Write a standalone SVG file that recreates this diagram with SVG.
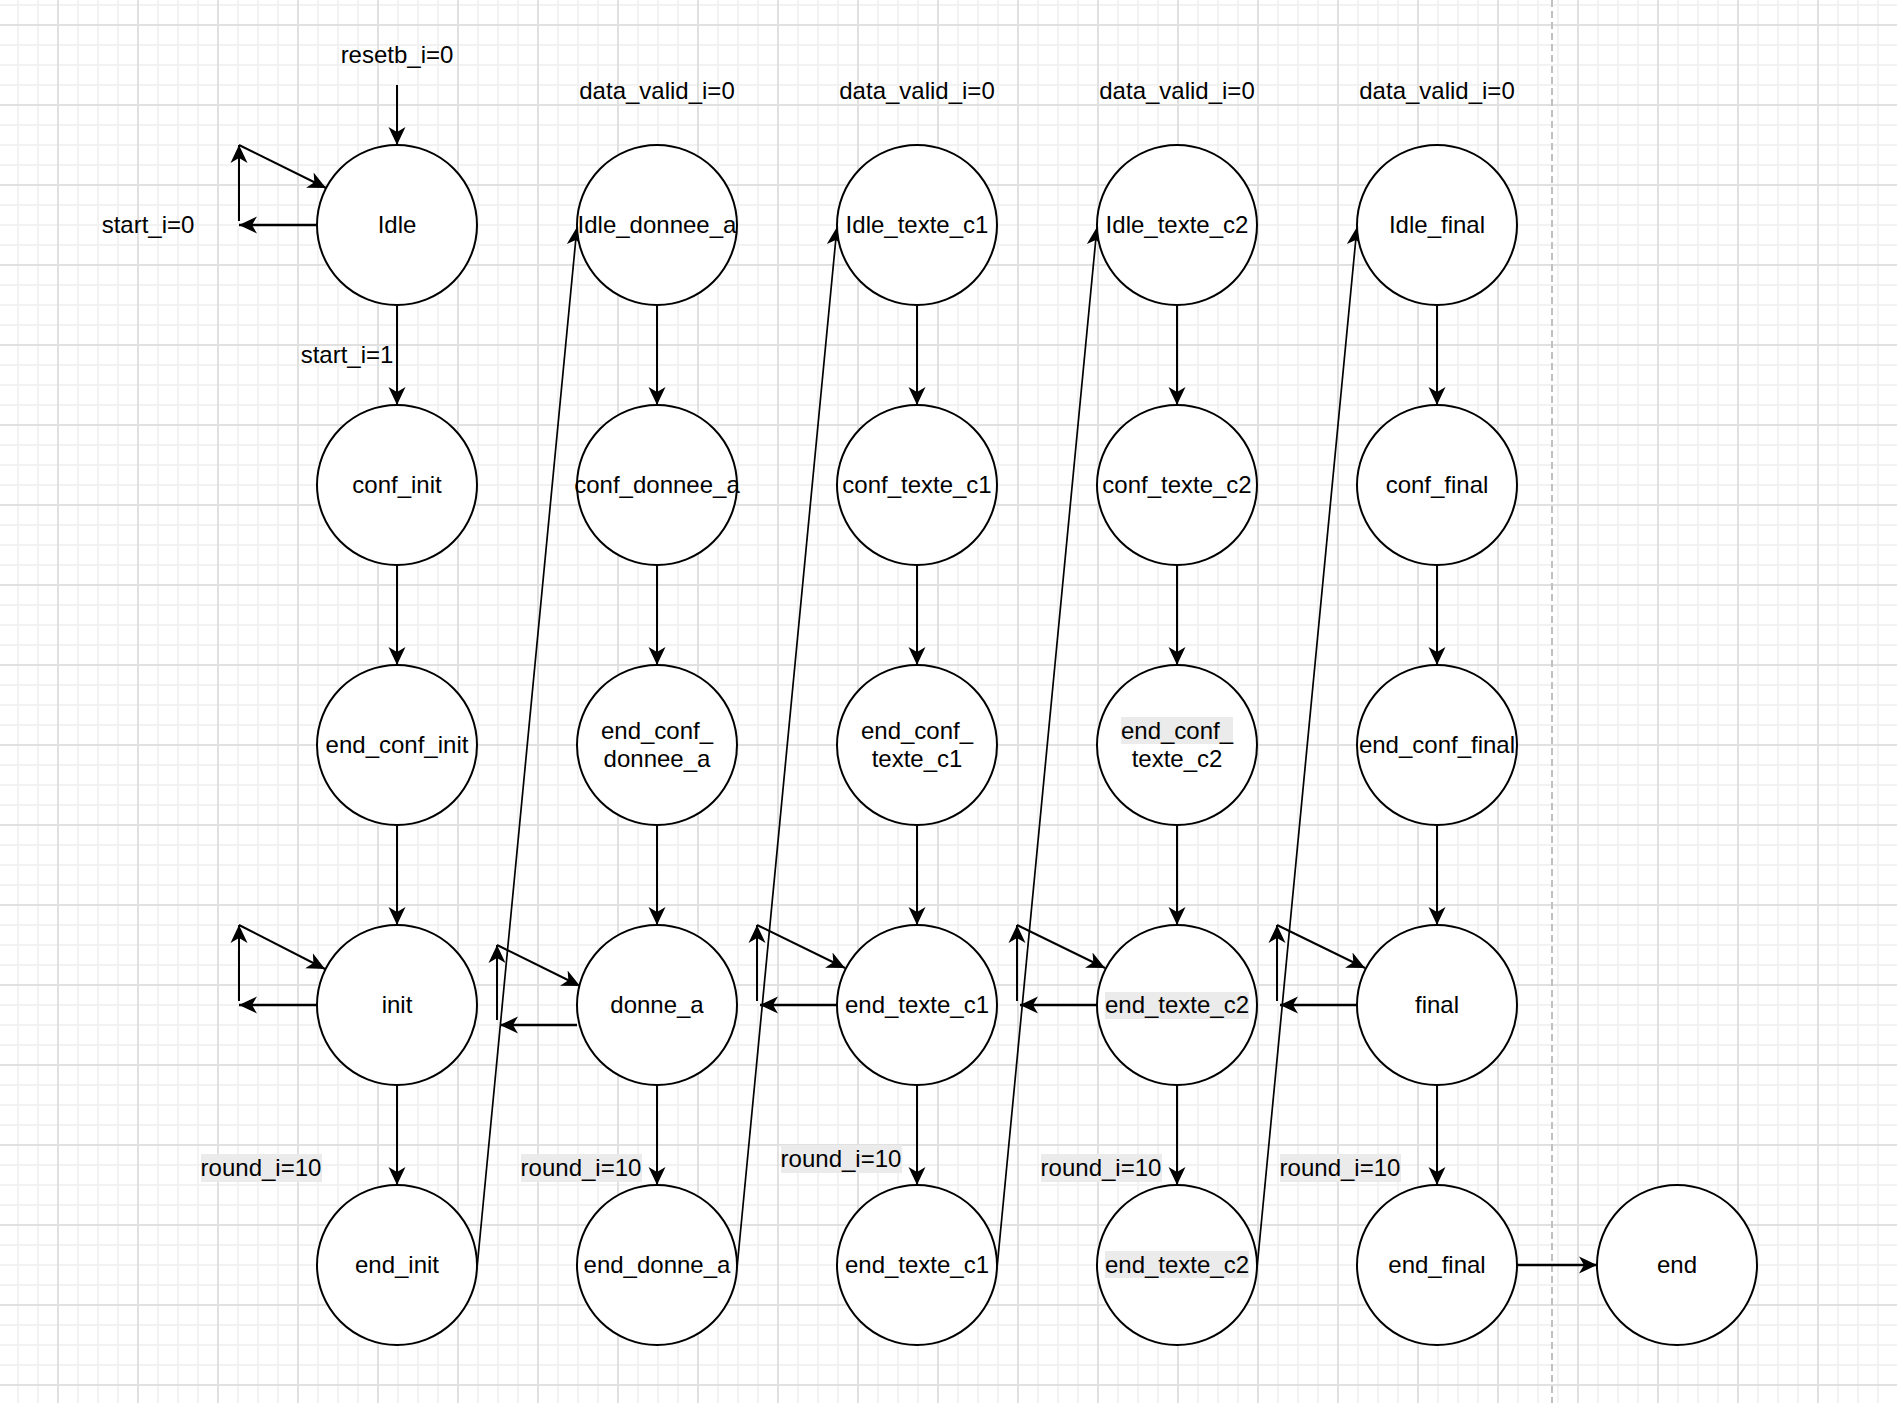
<svg xmlns="http://www.w3.org/2000/svg" width="1897" height="1403" viewBox="0 0 1897 1403">
<defs>
<pattern id="grid" patternUnits="userSpaceOnUse" x="8" y="-25" width="80" height="80">
<path d="M10,0V80M30,0V80M70,0V80M0,10H80M0,30H80M0,70H80" stroke="#f2f2f2" stroke-width="2" fill="none"/>
<path d="M50,0V80M0,50H80" stroke="#e1e1e1" stroke-width="2" fill="none"/>
</pattern>
<marker id="arr" markerUnits="userSpaceOnUse" markerWidth="22" markerHeight="22" viewBox="0 -11 22 22" refX="18" refY="0" orient="auto">
<path d="M0,-8.5 L18,0 L0,8.5 L5,0 z" fill="#000"/>
</marker>
</defs>
<style>
.st{fill:#fff;stroke:#000;stroke-width:2}
text{font-family:"Liberation Sans",Arial,Helvetica,sans-serif;font-size:24px;fill:#000;text-anchor:middle}
.hl{fill:#ebebeb}
.c{fill:none;stroke:#000;stroke-width:2;marker-end:url(#arr)}
.h{fill:none;stroke:#000;stroke-width:2.6;marker-end:url(#arr)}
.l{fill:none;stroke:#000;stroke-width:1.7;marker-end:url(#arr)}
</style>
<rect width="1897" height="1403" fill="#fff"/>
<rect width="1897" height="1403" fill="url(#grid)"/>
<line x1="1552" y1="0" x2="1552" y2="1403" stroke="#c0c0c0" stroke-width="2" stroke-dasharray="7 4"/>

<g id="labels">
<text x="397" y="63">resetb_i=0</text>
<text x="148" y="233">start_i=0</text>
<text x="347" y="363">start_i=1</text>
<text x="657" y="99">data_valid_i=0</text>
<text x="917" y="99">data_valid_i=0</text>
<text x="1177" y="99">data_valid_i=0</text>
<text x="1437" y="99">data_valid_i=0</text>
<rect class="hl" x="201" y="1154" width="121" height="28"/>
<text x="261" y="1176">round_i=10</text>
<rect class="hl" x="521" y="1154" width="121" height="28"/>
<text x="581" y="1176">round_i=10</text>
<rect class="hl" x="781" y="1145" width="121" height="28"/>
<text x="841" y="1167">round_i=10</text>
<rect class="hl" x="1041" y="1154" width="121" height="28"/>
<text x="1101" y="1176">round_i=10</text>
<rect class="hl" x="1280" y="1154" width="121" height="28"/>
<text x="1340" y="1176">round_i=10</text>
</g>

<g id="connectors">
<path class="c" d="M397,85V145"/>
<path class="h" d="M318,225H239"/>
<path class="c" d="M239,221V145"/>
<path class="c" d="M239,145L326,188"/>
<path class="h" d="M318,1005H239"/>
<path class="c" d="M239,1001V925"/>
<path class="c" d="M239,925L325,969"/>
<path class="h" d="M577,1025H500"/>
<path class="c" d="M497,1020V945"/>
<path class="c" d="M497,945L580,986"/>
<path class="h" d="M837,1005H760"/>
<path class="c" d="M757,1001V925"/>
<path class="c" d="M757,925L845,968"/>
<path class="h" d="M1097,1005H1020"/>
<path class="c" d="M1017,1001V925"/>
<path class="c" d="M1017,925L1105,968"/>
<path class="h" d="M1357,1005H1280"/>
<path class="c" d="M1277,1001V925"/>
<path class="c" d="M1277,925L1365,968"/>
<path class="h" d="M1517,1265H1597"/>
<path class="l" d="M477,1268L577,227"/>
<path class="l" d="M737,1268L837,227"/>
<path class="l" d="M997,1268L1097,227"/>
<path class="l" d="M1257,1268L1357,227"/>
<path class="c" d="M397,305V405"/><path class="c" d="M397,565V665"/><path class="c" d="M397,825V925"/><path class="c" d="M397,1085V1185"/>
<path class="c" d="M657,305V405"/><path class="c" d="M657,565V665"/><path class="c" d="M657,825V925"/><path class="c" d="M657,1085V1185"/>
<path class="c" d="M917,305V405"/><path class="c" d="M917,565V665"/><path class="c" d="M917,825V925"/><path class="c" d="M917,1085V1185"/>
<path class="c" d="M1177,305V405"/><path class="c" d="M1177,565V665"/><path class="c" d="M1177,825V925"/><path class="c" d="M1177,1085V1185"/>
<path class="c" d="M1437,305V405"/><path class="c" d="M1437,565V665"/><path class="c" d="M1437,825V925"/><path class="c" d="M1437,1085V1185"/>
</g>

<g id="Idle"><circle class="st" cx="397" cy="225" r="80"/><text x="397" y="233">Idle</text></g>
<g id="Idle_donnee_a"><circle class="st" cx="657" cy="225" r="80"/><text x="657" y="233">Idle_donnee_a</text></g>
<g id="Idle_texte_c1"><circle class="st" cx="917" cy="225" r="80"/><text x="917" y="233">Idle_texte_c1</text></g>
<g id="Idle_texte_c2"><circle class="st" cx="1177" cy="225" r="80"/><text x="1177" y="233">Idle_texte_c2</text></g>
<g id="Idle_final"><circle class="st" cx="1437" cy="225" r="80"/><text x="1437" y="233">Idle_final</text></g>

<g id="conf_init"><circle class="st" cx="397" cy="485" r="80"/><text x="397" y="493">conf_init</text></g>
<g id="conf_donnee_a"><circle class="st" cx="657" cy="485" r="80"/><text x="657" y="493">conf_donnee_a</text></g>
<g id="conf_texte_c1"><circle class="st" cx="917" cy="485" r="80"/><text x="917" y="493">conf_texte_c1</text></g>
<g id="conf_texte_c2"><circle class="st" cx="1177" cy="485" r="80"/><text x="1177" y="493">conf_texte_c2</text></g>
<g id="conf_final"><circle class="st" cx="1437" cy="485" r="80"/><text x="1437" y="493">conf_final</text></g>

<g id="end_conf_init"><circle class="st" cx="397" cy="745" r="80"/><text x="397" y="753">end_conf_init</text></g>
<g id="end_conf_donnee_a"><circle class="st" cx="657" cy="745" r="80"/><text x="657" y="739">end_conf_</text><text x="657" y="767">donnee_a</text></g>
<g id="end_conf_texte_c1"><circle class="st" cx="917" cy="745" r="80"/><text x="917" y="739">end_conf_</text><text x="917" y="767">texte_c1</text></g>
<g id="end_conf_texte_c2"><circle class="st" cx="1177" cy="745" r="80"/><rect class="hl" x="1121" y="717" width="112" height="27"/><text x="1177" y="739">end_conf_</text><text x="1177" y="767">texte_c2</text></g>
<g id="end_conf_final"><circle class="st" cx="1437" cy="745" r="80"/><text x="1437" y="753">end_conf_final</text></g>

<g id="init"><circle class="st" cx="397" cy="1005" r="80"/><text x="397" y="1013">init</text></g>
<g id="donne_a"><circle class="st" cx="657" cy="1005" r="80"/><text x="657" y="1013">donne_a</text></g>
<g id="end_texte_c1_a"><circle class="st" cx="917" cy="1005" r="80"/><text x="917" y="1013">end_texte_c1</text></g>
<g id="end_texte_c2_a"><circle class="st" cx="1177" cy="1005" r="80"/><rect class="hl" x="1105" y="992" width="144" height="27"/><text x="1177" y="1013">end_texte_c2</text></g>
<g id="final"><circle class="st" cx="1437" cy="1005" r="80"/><text x="1437" y="1013">final</text></g>

<g id="end_init"><circle class="st" cx="397" cy="1265" r="80"/><text x="397" y="1273">end_init</text></g>
<g id="end_donne_a"><circle class="st" cx="657" cy="1265" r="80"/><text x="657" y="1273">end_donne_a</text></g>
<g id="end_texte_c1_b"><circle class="st" cx="917" cy="1265" r="80"/><text x="917" y="1273">end_texte_c1</text></g>
<g id="end_texte_c2_b"><circle class="st" cx="1177" cy="1265" r="80"/><rect class="hl" x="1105" y="1251" width="144" height="27"/><text x="1177" y="1273">end_texte_c2</text></g>
<g id="end_final"><circle class="st" cx="1437" cy="1265" r="80"/><text x="1437" y="1273">end_final</text></g>
<g id="end"><circle class="st" cx="1677" cy="1265" r="80"/><text x="1677" y="1273">end</text></g>
</svg>
